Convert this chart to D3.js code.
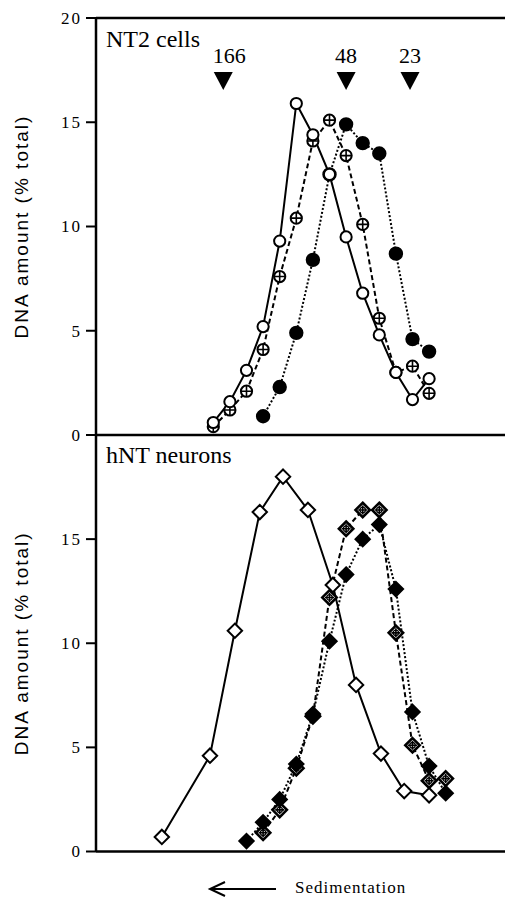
<!DOCTYPE html>
<html>
<head>
  <meta charset="utf-8">
  <script src="https://cdn.jsdelivr.net/npm/d3@7/dist/d3.min.js"></script>
  <style>
    body { margin: 0; background: #fff; }
    svg { display: block; }
    .tick-label { font-family: "Liberation Serif", "Times New Roman", serif; font-size: 17px; letter-spacing: 2px; }
    .panel-title { font-family: "Liberation Serif", "Times New Roman", serif; font-size: 24px; }
    .marker-label { font-family: "Liberation Serif", "Times New Roman", serif; font-size: 22px; }
    .y-title { font-family: "Liberation Sans", Arial, sans-serif; font-size: 19px; letter-spacing: 2px; }
    .x-title { font-family: "Liberation Serif", "Times New Roman", serif; font-size: 17px; letter-spacing: 1px; }
  </style>
</head>
<body>
<script type="text/javascript">
  /*
    Data (fraction number vs % of total DNA)
  */
  // NT2 cells
  var nt2OpenFraction = [1, 2, 3, 4, 5, 6, 7, 8, 9, 10, 11, 12, 13, 14];
  var nt2Open = [0.6, 1.6, 3.1, 5.2, 9.3, 15.9, 14.4, 12.5, 9.5, 6.8, 4.8, 3.0, 1.7, 2.7];
  var nt2CrossFraction = [1, 2, 3, 4, 5, 6, 7, 8, 9, 10, 11, 12, 13, 14];
  var nt2Cross = [0.4, 1.2, 2.1, 4.1, 7.6, 10.4, 14.1, 15.1, 13.4, 10.1, 5.6, 3.0, 3.3, 2.0];
  var nt2FilledFraction = [4, 5, 6, 7, 8, 9, 10, 11, 12, 13, 14];
  var nt2Filled = [0.9, 2.3, 4.9, 8.4, 12.5, 14.9, 14.0, 13.5, 8.7, 4.6, 4.0];

  // size markers (S values) and where they sit
  var markerNames = ["166", "48", "23"];
  var markerFraction = [1.6, 9.0, 12.85];

  // hNT neurons
  var hntOpenFraction = [-2.1, 0.8, 2.3, 3.8, 5.2, 6.7, 8.2, 9.6, 11.1, 12.5, 14.0];
  var hntOpen = [0.7, 4.6, 10.6, 16.3, 18.0, 16.4, 12.8, 8.0, 4.7, 2.9, 2.7];
  var hntCrossFraction = [4, 5, 6, 7, 8, 9, 10, 11, 12, 13, 14, 15];
  var hntCross = [0.9, 2.0, 4.0, 6.5, 12.2, 15.5, 16.4, 16.4, 10.5, 5.1, 3.4, 3.5];
  var hntFilledFraction = [3, 4, 5, 6, 7, 8, 9, 10, 11, 12, 13, 14, 15];
  var hntFilled = [0.5, 1.4, 2.5, 4.2, 6.6, 10.1, 13.3, 15.0, 15.7, 12.6, 6.7, 4.1, 2.8];

  var topTicks = [0, 5, 10, 15, 20];
  var bottomTicks = [0, 5, 10, 15];

  /*
    D3.js setup code
  */
  var width = 505,
      height = 898;
  var axisX = 96;

  var svg = d3.select("body")
      .append("svg")
      .attr("width", width)
      .attr("height", height);

  var x = d3.scaleLinear().domain([1, 14]).range([213.3, 429.1]);
  var yTop = d3.scaleLinear().domain([0, 20]).range([435, 18]);
  var yBottom = d3.scaleLinear().domain([0, 20]).range([851.5, 435]);

  function zip(xs, ys) {
    return xs.map(function(d, i) { return {f: d, v: ys[i]}; });
  }

  function drawLine(g, data, y, dash) {
    var line = d3.line()
        .x(function(d) { return x(d.f); })
        .y(function(d) { return y(d.v); });
    g.append("path")
        .datum(data)
        .attr("d", line)
        .attr("fill", "none")
        .attr("stroke", "#000")
        .attr("stroke-width", 2)
        .attr("stroke-dasharray", dash);
  }

  function drawCircles(g, data, y, filled, crossed) {
    var pts = g.selectAll(null)
        .data(data)
        .enter().append("g")
        .attr("transform", function(d) {
          return "translate(" + x(d.f) + "," + y(d.v) + ")";
        });
    pts.append("circle")
        .attr("r", filled ? 6.2 : 5.6)
        .attr("fill", filled ? "#000" : "#fff")
        .attr("stroke", "#000")
        .attr("stroke-width", 2);
    if (crossed) {
      pts.append("path")
          .attr("d", "M-5.6,0H5.6M0,-5.6V5.6")
          .attr("stroke", "#000")
          .attr("stroke-width", 1.6);
    }
  }

  function drawDiamonds(g, data, y, filled, crossed) {
    var s = 7.2;
    var pts = g.selectAll(null)
        .data(data)
        .enter().append("g")
        .attr("transform", function(d) {
          return "translate(" + x(d.f) + "," + y(d.v) + ")";
        });
    pts.append("path")
        .attr("d", "M0," + (-s) + "L" + s + ",0L0," + s + "L" + (-s) + ",0Z")
        .attr("fill", filled ? "#000" : "#fff")
        .attr("stroke", "#000")
        .attr("stroke-width", crossed ? 2.6 : 2)
        .attr("stroke-linejoin", "miter");
    if (crossed) {
      // small crossed circle inside the diamond
      pts.append("circle")
          .attr("r", 2.8)
          .attr("fill", "none")
          .attr("stroke", "#000")
          .attr("stroke-width", 1.3);
      pts.append("path")
          .attr("d", "M-4.5,0H4.5M0,-4.5V4.5")
          .attr("stroke", "#000")
          .attr("stroke-width", 1.6);
    }
  }

  //Axes frame
  var frame = svg.append("g").attr("class", "frame");
  frame.append("line")
      .attr("x1", axisX).attr("x2", axisX)
      .attr("y1", yTop(20)).attr("y2", yBottom(0))
      .attr("stroke", "#000").attr("stroke-width", 2.5);
  [yTop(20), yTop(0), yBottom(0)].forEach(function(yy) {
    frame.append("line")
        .attr("x1", axisX).attr("x2", width)
        .attr("y1", yy).attr("y2", yy)
        .attr("stroke", "#000").attr("stroke-width", 2.5);
  });

  //Tick marks and labels for both panels
  function drawTicks(ticks, y) {
    var t = frame.selectAll(null)
        .data(ticks)
        .enter().append("g")
        .attr("transform", function(d) { return "translate(0," + y(d) + ")"; });
    t.append("line")
        .attr("x1", 86).attr("x2", axisX)
        .attr("stroke", "#000").attr("stroke-width", 2);
    t.append("text")
        .attr("class", "tick-label")
        .attr("x", 82)
        .attr("dy", "0.35em")
        .attr("text-anchor", "end")
        .text(function(d) { return d; });
  }
  drawTicks(topTicks, yTop);
  drawTicks(bottomTicks, yBottom);

  //Y axis titles
  [yTop(10), yBottom(10)].forEach(function(cy) {
    svg.append("text")
        .attr("class", "y-title")
        .attr("transform", "translate(28," + cy + ") rotate(-90)")
        .attr("text-anchor", "middle")
        .text("DNA amount (% total)");
  });

  //Panel titles
  svg.append("text").attr("class", "panel-title")
      .attr("x", 106).attr("y", 47).text("NT2 cells");
  svg.append("text").attr("class", "panel-title")
      .attr("x", 106).attr("y", 463).text("hNT neurons");

  //Sedimentation markers
  var markers = svg.append("g").attr("class", "markers")
      .selectAll("g")
      .data(markerNames.map(function(d, i) { return {name: d, f: markerFraction[i]}; }))
      .enter().append("g")
      .attr("transform", function(d) { return "translate(" + x(d.f) + ",0)"; });
  markers.append("path")
      .attr("d", "M-9.5,72L9.5,72L0,90Z")
      .attr("fill", "#000");
  markers.append("text")
      .attr("class", "marker-label")
      .attr("x", function(d) { return d.name == "166" ? 6 : 0; })
      .attr("y", 63)
      .attr("text-anchor", "middle")
      .text(function(d) { return d.name; });

  //NT2 cells series
  var topPanel = svg.append("g").attr("class", "nt2");
  drawLine(topPanel, zip(nt2CrossFraction, nt2Cross), yTop, "5,3");
  drawLine(topPanel, zip(nt2FilledFraction, nt2Filled), yTop, "2,2");
  drawLine(topPanel, zip(nt2OpenFraction, nt2Open), yTop, null);
  drawCircles(topPanel, zip(nt2CrossFraction, nt2Cross), yTop, false, true);
  drawCircles(topPanel, zip(nt2FilledFraction, nt2Filled), yTop, true, false);
  drawCircles(topPanel, zip(nt2OpenFraction, nt2Open), yTop, false, false);

  //hNT neurons series
  var bottomPanel = svg.append("g").attr("class", "hnt");
  drawLine(bottomPanel, zip(hntCrossFraction, hntCross), yBottom, "5,3");
  drawLine(bottomPanel, zip(hntFilledFraction, hntFilled), yBottom, "2,2");
  drawLine(bottomPanel, zip(hntOpenFraction, hntOpen), yBottom, null);
  drawDiamonds(bottomPanel, zip(hntCrossFraction, hntCross), yBottom, false, true);
  drawDiamonds(bottomPanel, zip(hntFilledFraction, hntFilled), yBottom, true, false);
  drawDiamonds(bottomPanel, zip(hntOpenFraction, hntOpen), yBottom, false, false);

  //Sedimentation arrow
  var arrow = svg.append("g").attr("class", "arrow");
  arrow.append("path")
      .attr("d", "M276,889H211M225,882L210,889L225,896")
      .attr("fill", "none")
      .attr("stroke", "#000")
      .attr("stroke-width", 2);
  arrow.append("text")
      .attr("class", "x-title")
      .attr("x", 295).attr("y", 893)
      .text("Sedimentation");
</script>
</body>
</html>
